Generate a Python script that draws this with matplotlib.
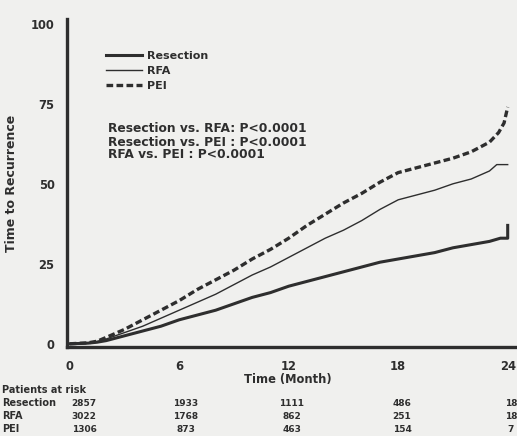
import matplotlib
matplotlib.use("Agg")
import matplotlib.pyplot as plt

plt.rcParams['font.family'] = ['DejaVu Sans']
plt.rcParams['font.weight'] = 'bold'

# ---- data ----
res_t = [0, 1, 1.5, 2, 3, 4, 5, 6, 7, 8, 9, 10, 11, 12, 13, 14, 15, 16, 17, 18, 19, 20, 21, 22, 23, 23.6, 24, 24]
res_y = [0, 0.2, 0.5, 1, 2.5, 4, 5.5, 7.5, 9, 10.5, 12.5, 14.5, 16, 18, 19.5, 21, 22.5, 24, 25.5, 26.5, 27.5, 28.5, 30, 31, 32, 33, 33, 37]

rfa_t = [0, 1, 1.5, 2, 3, 4, 5, 6, 7, 8, 9, 10, 11, 12, 13, 14, 15, 16, 17, 18, 19, 20, 21, 22, 22.6, 23, 23.4, 24]
rfa_y = [0, 0.3, 0.7, 1.5, 3.5, 5.5, 8, 10.5, 13, 15.5, 18.5, 21.5, 24, 27, 30, 33, 35.5, 38.5, 42, 45, 46.5, 48, 50, 51.5, 53, 54, 56, 56]

pei_t = [0, 1, 1.5, 2, 3, 4, 5, 6, 7, 8, 9, 10, 11, 12, 13, 14, 15, 16, 17, 18, 19, 20, 21, 22, 23, 23.5, 23.8, 24]
pei_y = [0, 0.3, 0.8, 2, 4.5, 7.5, 10.5, 13.5, 17, 20, 23, 26.5, 29.5, 33, 37, 40.5, 44, 47, 50.5, 53.5, 55, 56.5, 58, 60, 63, 66, 69, 74]

xticks = [0, 6, 12, 18, 24]
yticks = [0, 25, 50, 75, 100]

risk_groups = ["Resection", "RFA", "PEI"]
risk_res = [2857, 1933, 1111, 486, 18]
risk_rfa = [3022, 1768, 862, 251, 18]
risk_pei = [1306, 873, 463, 154, 7]

pvals = ["Resection vs. RFA: P<0.0001",
         "Resection vs. PEI : P<0.0001",
         "RFA vs. PEI : P<0.0001"]

# ---- layout ----
W, H = 517, 436
bg = '#f0f0ee'
ink = '#2e2e2e'
fig = plt.figure(figsize=(W / 100, H / 100), dpi=100, facecolor=bg)

def fx(px):
    return px / W

def fy(py):
    return 1 - py / H

ax = fig.add_axes([fx(67), fy(347), fx(515) - fx(67), fy(19) - fy(347)])
ax.set_facecolor(bg)
ax.set_xlim(-0.15, 24.4)
ax.set_ylim(-1, 101.5)

ax.plot(res_t, res_y, color=ink, lw=2.2, label='Resection')
ax.plot(rfa_t, rfa_y, color=ink, lw=1.0, label='RFA')
ax.plot(pei_t, pei_y, color=ink, lw=2.4, linestyle=(0, (2.0, 1.0)), label='PEI')

for s in ['top', 'right']:
    ax.spines[s].set_visible(False)
for s in ['left', 'bottom']:
    ax.spines[s].set_linewidth(2.4)
    ax.spines[s].set_color(ink)

ax.set_xticks(xticks)
ax.set_yticks(yticks)
ax.tick_params(axis='both', length=0, colors=ink, labelsize=8.3)
ax.tick_params(axis='y', pad=9)
ax.tick_params(axis='x', pad=9)

fig.text(fx(12), fy(183), "Time to Recurrence", rotation=90, ha='center', va='center',
         fontsize=9, color=ink, fontweight='bold')
fig.text(fx(288), fy(379), "Time (Month)", ha='center', va='center',
         fontsize=8.3, color=ink, fontweight='bold')

leg = ax.legend(loc='upper left', bbox_to_anchor=(fx(106), fy(51)),
                bbox_transform=fig.transFigure, frameon=False,
                fontsize=8, handlelength=3.2, handletextpad=0.5,
                labelspacing=0.45, borderpad=0, borderaxespad=0)
for t in leg.get_texts():
    t.set_color(ink)

p_rows_y = [129, 142, 155]
for txt, yy in zip(pvals, p_rows_y):
    fig.text(fx(108), fy(yy), txt, ha='left', va='center', fontsize=8.8,
             color=ink, fontweight='bold')

# risk table
fig.text(fx(2), fy(390), "Patients at risk", ha='left', va='center',
         fontsize=7, color=ink, fontweight='bold')
row_y = [403, 416, 429]
col_x = [84, 186, 292, 402, 511]
for name, vals, yy in zip(risk_groups, [risk_res, risk_rfa, risk_pei], row_y):
    fig.text(fx(2), fy(yy), name, ha='left', va='center', fontsize=7,
             color=ink, fontweight='bold')
    for v, xx in zip(vals, col_x):
        fig.text(fx(xx), fy(yy), str(v), ha='center', va='center', fontsize=6.5,
                 color=ink, fontweight='bold')

fig.savefig("out.png", dpi=100, facecolor=bg)
